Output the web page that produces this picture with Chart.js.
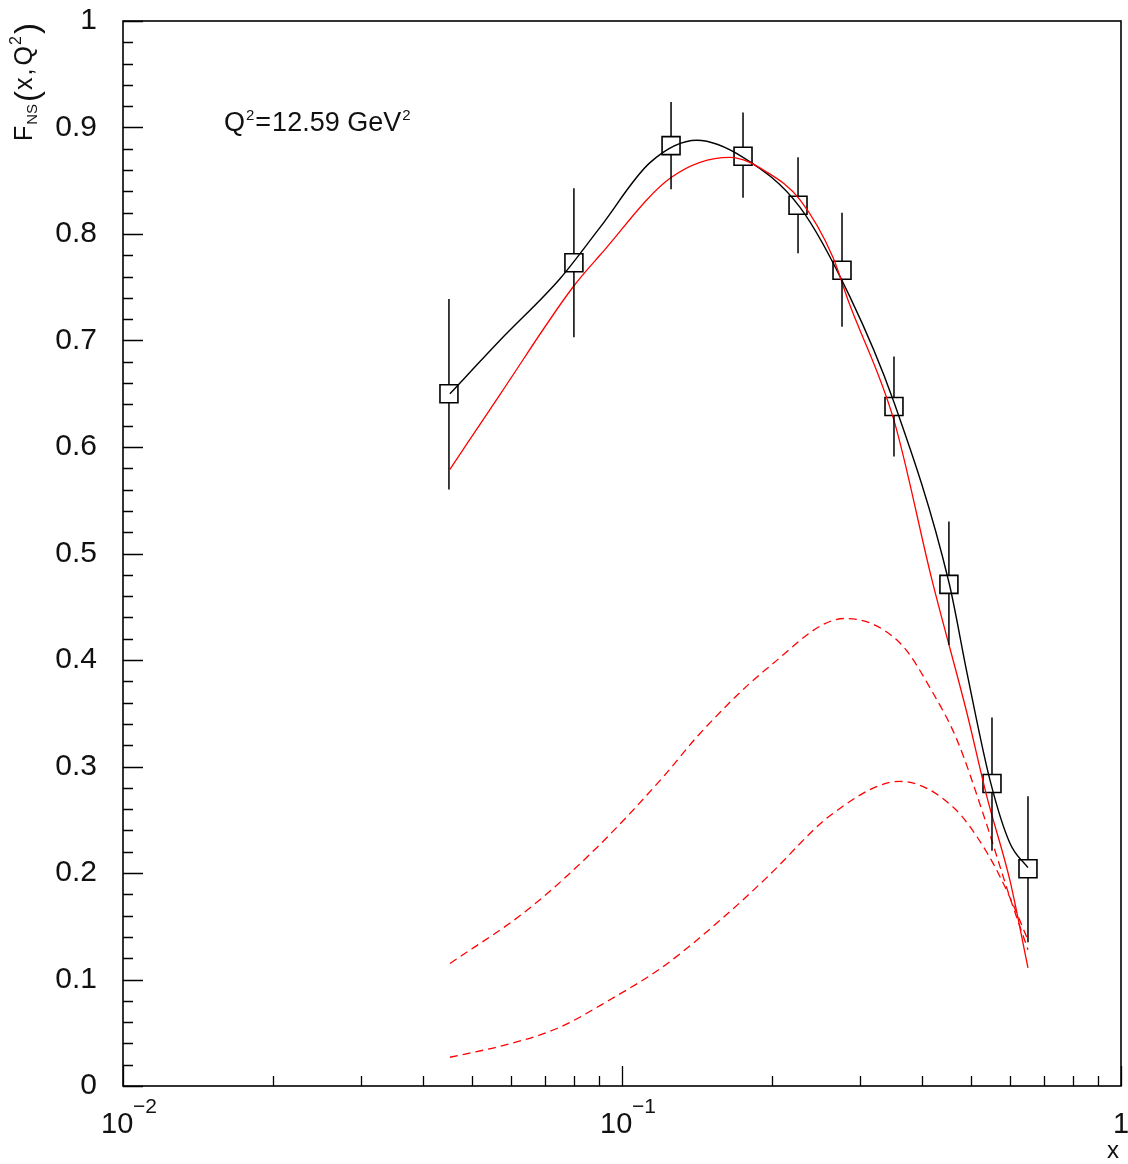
<!DOCTYPE html>
<html lang="en">
<head>
<meta charset="UTF-8">
<title>F_NS(x,Q2) at Q2 = 12.59 GeV2</title>
<script src="https://cdn.jsdelivr.net/npm/chart.js"></script>
<style>
    body {
        margin: 0;
        background: #fff;
    }
    #wrap {
        width: 1128px;
        height: 1164px;
    }
</style>
</head>
<body>

<div id="wrap">
    <canvas id="fnsChart" width="1128" height="1164"></canvas>
</div>

<script>
// measured points with error bars
const dataX  = [0.045, 0.0801, 0.1254, 0.1748, 0.2253, 0.276, 0.3508, 0.452, 0.5514, 0.651];
const dataY  = [0.650, 0.773, 0.883, 0.873, 0.827, 0.766, 0.638, 0.471, 0.284, 0.204];
const errHi  = [0.739, 0.843, 0.924, 0.914, 0.872, 0.820, 0.685, 0.530, 0.346, 0.272];
const errLo  = [0.560, 0.703, 0.842, 0.834, 0.782, 0.713, 0.591, 0.414, 0.221, 0.135];

// black fit curve
const fitX = [0.0452, 0.0569, 0.0751, 0.0903, 0.1138, 0.1413, 0.1748, 0.2274, 0.2863, 0.3508, 0.452, 0.4913, 0.5465, 0.599, 0.651];
const fitY = [0.650, 0.700, 0.758, 0.806, 0.867, 0.888, 0.872, 0.825, 0.741, 0.642, 0.473, 0.388, 0.287, 0.228, 0.205];

// red solid curve
const redX = [0.0452, 0.0569, 0.0797, 0.0903, 0.1254, 0.1646, 0.1953, 0.2274, 0.2648, 0.2837, 0.3508, 0.4181, 0.4913, 0.539, 0.599, 0.651];
const redY = [0.579, 0.649, 0.750, 0.780, 0.853, 0.872, 0.858, 0.832, 0.778, 0.738, 0.625, 0.475, 0.350, 0.271, 0.193, 0.111];

// red dashed curves
const dashUpX = [0.0452, 0.0645, 0.0891, 0.1208, 0.1433, 0.1953, 0.2798, 0.3606, 0.4200, 0.4692, 0.529, 0.599, 0.651];
const dashUpY = [0.115, 0.165, 0.224, 0.290, 0.331, 0.392, 0.439, 0.416, 0.369, 0.325, 0.256, 0.177, 0.128];
const dashLoX = [0.0452, 0.0577, 0.0741, 0.0946, 0.1208, 0.1594, 0.1953, 0.2648, 0.3606, 0.4606, 0.539, 0.599, 0.651];
const dashLoY = [0.027, 0.038, 0.054, 0.081, 0.112, 0.158, 0.196, 0.256, 0.286, 0.262, 0.219, 0.177, 0.137];

// axis ticks
const yTicks = [0, 0.1, 0.2, 0.3, 0.4, 0.5, 0.6, 0.7, 0.8, 0.9, 1];
const yTickLabels = ['0', '0.1', '0.2', '0.3', '0.4', '0.5', '0.6', '0.7', '0.8', '0.9', '1'];
const xDecades = [0.01, 0.1, 1];
const xDecadeLabels = [['10', '\u22122'], ['10', '\u22121'], ['1', '']];

function pts(xs, ys) {
    return xs.map((x, i) => ({ x: x, y: ys[i] }));
}

const FONT = '"Liberation Sans", Arial, sans-serif';

// writes pieces one after another: [text, size, baseline shift, gap after]
function runText(ctx, x, y, pieces) {
    let cx = x;
    pieces.forEach(p => {
        ctx.font = p[1] + 'px ' + FONT;
        ctx.fillText(p[0], cx, y + p[2]);
        cx += ctx.measureText(p[0]).width + (p[3] || 0);
    });
}

// axes, labels, error bars
const decor = {
    id: 'decor',
    afterDatasetsDraw(chart) {
        const ctx = chart.ctx;
        const xs = chart.scales.x, ys = chart.scales.y;
        const a = chart.chartArea;
        ctx.save();

        // error bars
        ctx.strokeStyle = '#000';
        ctx.lineWidth = 1.5;
        dataX.forEach((v, i) => {
            const px = xs.getPixelForValue(v);
            const py = ys.getPixelForValue(dataY[i]);
            ctx.beginPath();
            ctx.moveTo(px, ys.getPixelForValue(errHi[i]));
            ctx.lineTo(px, py - 9);
            ctx.moveTo(px, py + 9);
            ctx.lineTo(px, ys.getPixelForValue(errLo[i]));
            ctx.stroke();
        });

        // frame
        ctx.lineWidth = 1.6;
        ctx.strokeRect(a.left, a.top, a.right - a.left, a.bottom - a.top);

        // y ticks (inside, left only)
        ctx.lineWidth = 1.3;
        ctx.beginPath();
        for (let k = 0; k <= 50; k++) {
            const py = Math.round(ys.getPixelForValue(k * 0.02)) + 0.5;
            const len = (k % 5 === 0) ? 20 : 10;
            ctx.moveTo(a.left, py);
            ctx.lineTo(a.left + len, py);
        }
        // x ticks (inside, bottom only)
        xDecades.forEach((d, di) => {
            if (di < xDecades.length - 1) {
                for (let m = 2; m <= 9; m++) {
                    const px = Math.round(xs.getPixelForValue(d * m)) + 0.5;
                    ctx.moveTo(px, a.bottom);
                    ctx.lineTo(px, a.bottom - 10);
                }
            }
            const px = Math.round(xs.getPixelForValue(d)) + 0.5;
            ctx.moveTo(px, a.bottom);
            ctx.lineTo(px, a.bottom - 20);
        });
        ctx.stroke();

        ctx.fillStyle = '#111';
        // y labels
        ctx.font = '30px ' + FONT;
        ctx.textAlign = 'right';
        ctx.textBaseline = 'middle';
        yTicks.forEach((v, i) => {
            ctx.fillText(yTickLabels[i], 97, ys.getPixelForValue(v));
        });

        // x labels
        ctx.textBaseline = 'alphabetic';
        xDecades.forEach((d, i) => {
            const px = xs.getPixelForValue(d);
            const lab = xDecadeLabels[i];
            if (lab[1]) {
                ctx.font = '29px ' + FONT;
                ctx.textAlign = 'left';
                ctx.fillText(lab[0], px - 22, 1133);
                ctx.font = '21px ' + FONT;
                ctx.fillText(lab[1], px + 10, 1113);
            } else {
                ctx.font = '29px ' + FONT;
                ctx.textAlign = 'center';
                ctx.fillText(lab[0], px, 1133);
            }
        });

        // x axis title
        ctx.font = '24px ' + FONT;
        ctx.textAlign = 'left';
        ctx.fillText('x', 1107, 1158);

        // y axis title, rotated
        ctx.save();
        ctx.translate(32, 141);
        ctx.rotate(-Math.PI / 2);
        runText(ctx, 0, 0, [
            ['F', 25, 0, 1],
            ['NS', 15, 5, 2],
            ['(', 33, 6, 1],
            ['x', 25, 0, 2],
            [',', 25, 0, 3],
            ['Q', 25, 0, 1],
            ['2', 16, -11, 2],
            [')', 33, 6, 0]
        ]);
        ctx.restore();

        // annotation
        runText(ctx, 224, 131, [
            ['Q', 27, 0, 1],
            ['2', 15, -11, 1],
            ['=', 27, 0, 1],
            ['12.59', 27, 0, 0],
            [' ', 27, 0, 0],
            ['GeV', 27, 0, 1],
            ['2', 15, -11, 0]
        ]);

        ctx.restore();
    }
};

new Chart(document.getElementById('fnsChart'), {
    type: 'scatter',
    data: {
        datasets: [
            {
                label: 'dashed upper',
                data: pts(dashUpX, dashUpY),
                showLine: true,
                borderColor: '#ff0000',
                borderWidth: 1.3,
                borderDash: [8, 5],
                pointRadius: 0,
                cubicInterpolationMode: 'monotone'
            },
            {
                label: 'dashed lower',
                data: pts(dashLoX, dashLoY),
                showLine: true,
                borderColor: '#ff0000',
                borderWidth: 1.3,
                borderDash: [8, 5],
                pointRadius: 0,
                cubicInterpolationMode: 'monotone'
            },
            {
                label: 'red',
                data: pts(redX, redY),
                showLine: true,
                borderColor: '#ff0000',
                borderWidth: 1.3,
                pointRadius: 0,
                cubicInterpolationMode: 'monotone'
            },
            {
                label: 'fit',
                data: pts(fitX, fitY),
                showLine: true,
                borderColor: '#000',
                borderWidth: 1.4,
                pointRadius: 0,
                cubicInterpolationMode: 'monotone'
            },
            {
                label: 'data',
                data: pts(dataX, dataY),
                pointStyle: 'rect',
                pointRadius: 12.7,
                pointBorderWidth: 1.6,
                pointBorderColor: '#000',
                pointBackgroundColor: 'rgba(0,0,0,0)'
            }
        ]
    },
    options: {
        responsive: false,
        devicePixelRatio: 1,
        animation: false,
        layout: { autoPadding: false, padding: { left: 123, right: 7, top: 21, bottom: 78 } },
        plugins: {
            legend: { display: false },
            tooltip: { enabled: false }
        },
        scales: {
            x: { type: 'logarithmic', min: 0.01, max: 1, display: false },
            y: { type: 'linear', min: 0, max: 1, display: false }
        }
    },
    plugins: [decor]
});
</script>

</body>
</html>
